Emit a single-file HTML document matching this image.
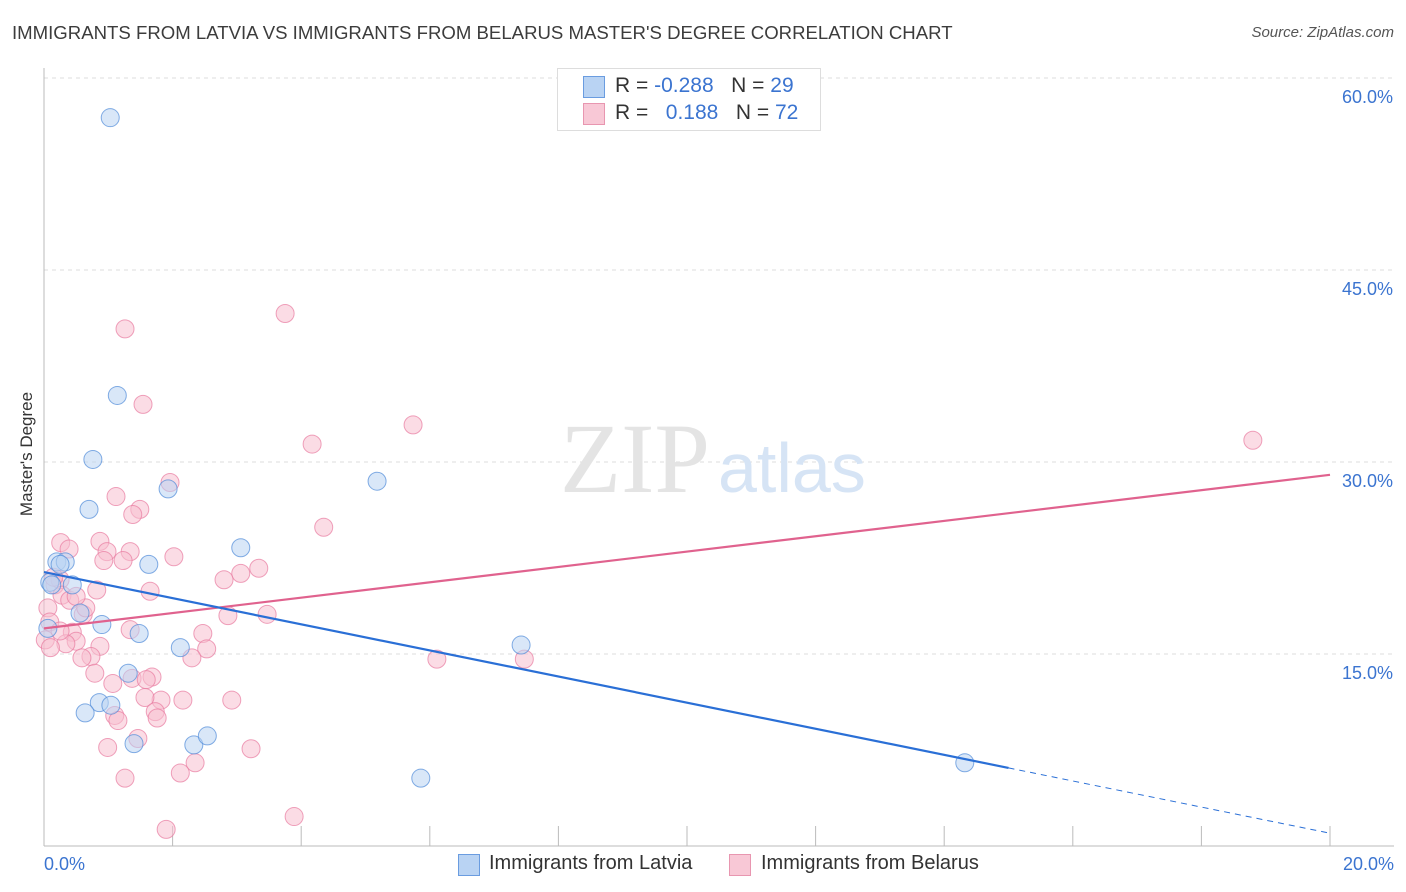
<!DOCTYPE html>
<html><head><meta charset="utf-8"><style>
body{margin:0;background:#fff;font-family:"Liberation Sans",sans-serif;}
#wrap{position:relative;width:1406px;height:892px;overflow:hidden;}
.t{position:absolute;white-space:nowrap;}
</style></head><body>
<div id="wrap">
<div class="t" style="left:12px;top:22px;font-size:18.6px;color:#3c3c3c">IMMIGRANTS FROM LATVIA VS IMMIGRANTS FROM BELARUS MASTER'S DEGREE CORRELATION CHART</div>
<div class="t" style="right:12px;top:24px;font-size:15px;color:#555;font-style:italic">Source: ZipAtlas.com</div>
<svg id="svg" width="1406" height="892" style="position:absolute;left:0;top:0"></svg>
</div>
<script>
const xTicks=[0,2,4,6,8,10,12,14,16,18,20];
const yTicks=[15,30,45,60];
const latviaX=[1.03,1.14,0.76,0.7,1.93,5.18,3.06,1.63,0.2,0.33,0.44,0.09,0.56,0.9,1.48,2.12,7.42,1.31,0.86,1.04,0.64,2.33,2.54,1.4,5.86,14.32,0.06,0.12,0.25];
const latviaY=[56.9,35.2,30.2,26.3,27.9,28.5,23.3,22.0,22.2,22.2,20.4,20.6,18.2,17.3,16.6,15.5,15.7,13.5,11.2,11.0,10.4,7.9,8.6,8.0,5.3,6.5,17.0,20.4,22.0];
const belarusX=[1.26,3.75,1.54,4.17,5.74,18.8,1.12,1.96,1.49,1.38,4.35,0.26,0.39,0.87,0.98,1.34,0.93,1.23,2.02,3.34,3.06,2.8,1.65,0.82,0.17,0.25,0.61,0.44,0.65,1.34,0.5,0.34,2.86,3.47,2.47,2.53,0.87,0.73,0.59,0.79,2.3,6.11,7.47,1.68,1.07,1.37,1.59,2.16,1.82,2.92,1.57,1.73,1.76,1.1,1.15,1.46,0.99,3.22,2.35,2.12,1.26,1.9,3.89,0.28,0.06,0.09,0.02,0.25,0.4,0.1,0.15,0.5];
const belarusY=[40.4,41.6,34.5,31.4,32.9,31.7,27.3,28.4,26.3,25.9,24.9,23.7,23.2,23.8,23.0,23.0,22.3,22.3,22.6,21.7,21.3,20.8,19.9,20.0,20.4,20.8,18.1,16.7,18.6,16.9,16.0,15.8,18.0,18.1,16.6,15.4,15.6,14.8,14.7,13.5,14.7,14.6,14.6,13.2,12.7,13.1,13.0,11.4,11.4,11.4,11.6,10.5,10.0,10.2,9.8,8.4,7.7,7.6,6.5,5.7,5.3,1.3,2.3,19.6,18.6,17.5,16.1,16.8,19.2,15.5,21.0,19.5];
const latviaFit=[21.4,-1.02];
const belarusFit=[17.0,0.6];
const X=v=>44+v/20*1286, Y=v=>846-v/15*192;
const svg=document.getElementById('svg');const NS='http://www.w3.org/2000/svg';
function mk(t,a,p){const e=document.createElementNS(NS,t);for(const k in a)e.setAttribute(k,a[k]);(p||svg).appendChild(e);return e;}
yTicks.forEach(v=>{const g=mk('line',{x1:44,x2:1394,y1:Y(v),y2:Y(v),stroke:'#ddd','stroke-dasharray':'4,4'});


const t=mk('text',{x:1393,y:Y(v)+25,'text-anchor':'end','font-size':18,fill:'#3b74d0','font-family':'Liberation Sans'});t.textContent=v.toFixed(1)+'%';

});
mk('line',{x1:44,x2:44,y1:68,y2:846,stroke:'#bbb'});
mk('line',{x1:44,x2:1394,y1:846,y2:846,stroke:'#bbb'});
xTicks.forEach(v=>{const l=mk('line',{x1:X(v),x2:X(v),y1:826,y2:846,stroke:'#bbb'});

});
[[0,'start',44],[20,'end',1394]].forEach(([v,a,x])=>{const t=mk('text',{x:x,y:870,'text-anchor':a,'font-size':18,fill:'#3b74d0','font-family':'Liberation Sans'});t.textContent=v.toFixed(1)+'%';

});
const wm=mk('text',{x:635,y:492,'text-anchor':'middle','font-size':100,fill:'#e4e4e4','font-family':'Liberation Serif'});wm.textContent='ZIP';


const wm2=mk('text',{x:718,y:492,'font-size':70,fill:'#d6e4f5','font-family':'Liberation Sans'});wm2.textContent='atlas';


function pts(xs,ys,fill,stroke,name){xs.forEach((x,i)=>{const c=mk('circle',{cx:X(x),cy:Y(ys[i]),r:9,fill:fill,'fill-opacity':0.55,stroke:stroke,'stroke-opacity':0.7,'stroke-width':1});

});}
pts(belarusX,belarusY,'#f8c0d0','#e87ba0','point-belarus');
pts(latviaX,latviaY,'#b9d3f3','#4f8ad8','point-latvia');
const b1=mk('line',{x1:X(0),y1:Y(belarusFit[0]),x2:X(20),y2:Y(belarusFit[0]+belarusFit[1]*20),stroke:'#e0628e','stroke-width':2.2});


const l1=mk('line',{x1:X(0),y1:Y(latviaFit[0]),x2:X(15),y2:Y(latviaFit[0]+latviaFit[1]*15),stroke:'#2a6fd6','stroke-width':2.2});


const l2=mk('line',{x1:X(15),y1:Y(latviaFit[0]+latviaFit[1]*15),x2:X(20),y2:Y(latviaFit[0]+latviaFit[1]*20),stroke:'#2a6fd6','stroke-width':1,'stroke-dasharray':'6,5'});


</script>
<div class="t" style="left:-48px;top:444px;transform:rotate(-90deg);font-size:17px;color:#333;width:150px;text-align:center">Master's Degree</div>
<div style="position:absolute;left:557px;top:68px;width:262px;height:61px;border:1px solid #ddd;background:#fff;font-size:21px">
<div style="position:absolute;left:25px;top:7px;width:20px;height:20px;background:#b9d3f3;border:1px solid #6a9ce0"></div>
<div class="t" style="left:57px;top:5px;color:#333">R = <span style="color:#3b74d0">-0.288</span>&nbsp;&nbsp;&nbsp;N = <span style="color:#3b74d0">29</span></div>
<div style="position:absolute;left:25px;top:34px;width:20px;height:20px;background:#f8c8d6;border:1px solid #e896b0"></div>
<div class="t" style="left:57px;top:32px;color:#333">R = &nbsp;&nbsp;<span style="color:#3b74d0">0.188</span>&nbsp;&nbsp;&nbsp;N = <span style="color:#3b74d0">72</span></div>
</div>
<div style="position:absolute;left:458px;top:854px;width:20px;height:20px;background:#b9d3f3;border:1px solid #6a9ce0"></div>
<div class="t" style="left:489px;top:852px;font-size:20px;color:#333">Immigrants from Latvia</div>
<div style="position:absolute;left:729px;top:854px;width:20px;height:20px;background:#f8c8d6;border:1px solid #e896b0"></div>
<div class="t" style="left:761px;top:852px;font-size:20px;color:#333">Immigrants from Belarus</div>
</body></html>
